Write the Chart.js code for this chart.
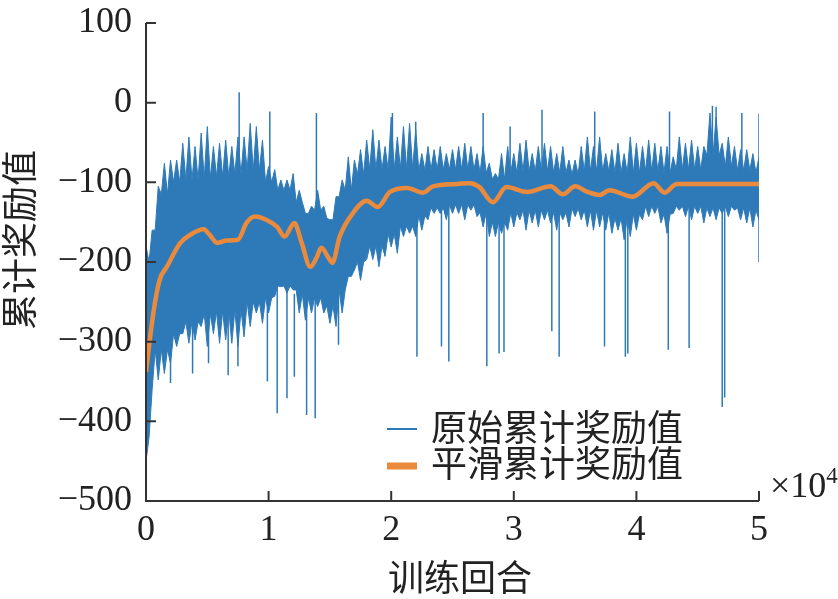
<!DOCTYPE html>
<html>
<head>
<meta charset="utf-8">
<script src="https://cdn.jsdelivr.net/npm/chart.js@4.4.1/dist/chart.umd.min.js"></script>
<style>
  html, body { margin: 0; padding: 0; background: #fff; }
  #wrap { width: 838px; height: 599px; }
</style>
</head>
<body>
<div id="wrap"><canvas id="c" width="838" height="599"></canvas></div>
<script>
// --- data (episodes, reward) ---
const sampleStep = 500;   // episodes between hair-tip samples
const coreStep = 1250;    // episodes between core-band samples

// tips of the noisy raw reward, upper and lower side, every 500 episodes
const rawHigh = [
  -180, -160, -105, -76, -72, -72, -51, -43, -55, -38,
  -30, -55, -51, -47, -55, -43, -43, -26, -30, -47,
  -80, -84, -97, -97, -89, -110, -139, -130, -110, -130,
  -147, -118, -97, -68, -72, -59, -47, -34, -47, -55,
  -18, -43, -30, -26, -34, -64, -55, -59, -55, -64,
  -59, -55, -51, -55, -64, -55, -76, -89, -64, -55,
  -64, -51, -47, -64, -55, -51, -55, -64, -55, -72,
  -72, -55, -43, -55, -43, -64, -59, -51, -64, -43,
  -51, -55, -47, -51, -55, -55, -68, -43, -51, -47,
  -55, -55, -13, -18, -51, -43, -55, -59, -59, -64,
  -68
];
const rawLow = [
  -450, -360, -348, -340, -327, -306, -290, -302, -298, -281,
  -306, -290, -302, -298, -302, -306, -294, -281, -264, -277,
  -264, -243, -231, -239, -235, -264, -273, -264, -256, -264,
  -277, -281, -264, -218, -210, -223, -197, -197, -206, -193,
  -181, -189, -168, -164, -168, -160, -147, -139, -139, -147,
  -139, -139, -147, -135, -143, -156, -168, -168, -164, -160,
  -156, -147, -160, -151, -156, -147, -151, -160, -147, -156,
  -143, -147, -156, -160, -156, -160, -164, -160, -172, -168,
  -160, -147, -143, -139, -151, -164, -139, -135, -143, -147,
  -139, -151, -143, -147, -139, -143, -135, -147, -151, -156,
  -147
];

// edges of the solid core of the raw band, every 1250 episodes
const coreHigh = [
  -200, -115, -100, -97, -95, -93, -90, -85, -100, -110,
  -125, -135, -145, -110, -90, -84, -84, -83, -85, -84,
  -84, -84, -88, -96, -88, -86, -86, -88, -90, -86,
  -86, -88, -88, -86, -88, -84, -84, -66, -80, -85,
  -88
];
const coreLow = [
  -420, -310, -290, -275, -265, -262, -260, -250, -245, -230,
  -240, -245, -255, -235, -200, -180, -165, -155, -142, -132,
  -128, -128, -138, -150, -138, -135, -135, -138, -133, -135,
  -138, -145, -140, -130, -140, -130, -130, -132, -130, -132,
  -135
];

// isolated spikes outside the band: [episode, reward]
const spikesDown = [
  [2000, -352], [3800, -340], [5100, -327], [6700, -342], [7500, -331],
  [9900, -350], [10700, -390], [11500, -371], [12100, -344], [13100, -392],
  [13800, -396], [15700, -304], [22100, -319], [24100, -306], [24700, -325],
  [27800, -331], [28800, -315], [29200, -313], [33100, -287], [33700, -319],
  [37400, -306], [39100, -319], [39300, -315], [42600, -310], [44300, -308],
  [47000, -382], [47200, -370], [50000, -200]
];
const spikesUp = [
  [7600, 13], [10100, -11], [13900, -13], [20100, -13], [22000, -24],
  [27500, -13], [29700, -30], [32300, -9], [36600, -11], [42700, -11],
  [46200, -4], [46500, -5], [48600, -13], [50000, -14]
];

// smoothed reward curve
const smoothEp = [
  0, 600, 1100, 1700, 2800, 3600, 4700, 5200, 5800, 6600,
  7500, 8200, 8900, 9800, 10700, 11300, 12100, 12700, 13400, 13900,
  14300, 14900, 15200, 15800, 16900, 18000, 18900, 19900, 21300, 22600,
  23400, 25400, 26400, 27200, 28300, 29400, 31100, 33000, 34000, 35000,
  36000, 37000, 37800, 39700, 41400, 42300, 43300, 50000
];
const smoothVal = [
  -338, -264, -223, -206, -176, -166, -159, -166, -176, -173,
  -172, -151, -143, -147, -156, -168, -151, -176, -206, -195,
  -182, -195, -201, -168, -138, -123, -131, -112, -107, -113,
  -105, -102, -101, -106, -125, -106, -112, -105, -115, -105,
  -112, -116, -110, -118, -101, -113, -102, -102
];

const xTicks = [0, 10000, 20000, 30000, 40000, 50000];
const yTicks = [-500, -400, -300, -200, -100, 0, 100];

const BLUE = '#2e7ab8';
const ORANGE = '#ea8a3c';
const SERIF = '"Liberation Serif", "Times New Roman", serif';
const CJK = '"Noto Sans CJK SC", sans-serif';

// --- build datasets: saw-tooth edges alternate hair tip / core edge ---
const bandHigh = [];
const bandLow = [];
rawHigh.forEach((v, i) => {
  const ep = i * sampleStep;
  const c = Math.round((ep + sampleStep / 2) / coreStep);
  bandHigh.push({x: ep, y: v});
  bandLow.push({x: ep, y: rawLow[i]});
  if (i < rawHigh.length - 1) {
    bandHigh.push({x: ep + sampleStep / 2, y: Math.min(coreHigh[c], v)});
    bandLow.push({x: ep + sampleStep / 2, y: Math.max(coreLow[c], rawLow[i])});
  }
});

const spikePts = [];
spikesDown.forEach(([ep, v]) => {
  const c = Math.round(ep / coreStep);
  spikePts.push({x: ep, y: coreLow[c]}, {x: ep, y: v}, {x: ep, y: null});
});
spikesUp.forEach(([ep, v]) => {
  const c = Math.round(ep / coreStep);
  spikePts.push({x: ep, y: coreHigh[c]}, {x: ep, y: v}, {x: ep, y: null});
});

const smoothPts = smoothEp.map((ep, i) => ({x: ep, y: smoothVal[i]}));

const fmt = v => (v < 0 ? '\u2212' + Math.abs(v) : String(v));

// axes, inward ticks, titles, legend and exponent drawn on top
const decorations = {
  id: 'decorations',
  afterDraw(chart) {
    const {ctx, scales: {x, y}, chartArea: a} = chart;
    ctx.save();
    ctx.strokeStyle = '#333';
    ctx.lineWidth = 2;
    ctx.beginPath();
    ctx.moveTo(a.left, a.top);
    ctx.lineTo(a.left, a.bottom);
    ctx.lineTo(a.right, a.bottom);
    xTicks.forEach(v => {
      const px = x.getPixelForValue(v);
      ctx.moveTo(px, a.bottom);
      ctx.lineTo(px, a.bottom - 10);
    });
    yTicks.forEach(v => {
      const py = y.getPixelForValue(v);
      ctx.moveTo(a.left, py);
      ctx.lineTo(a.left + 10, py);
    });
    ctx.stroke();

    ctx.fillStyle = '#222';
    ctx.textBaseline = 'middle';
    ctx.textAlign = 'center';
    ctx.font = '36px ' + CJK;
    ctx.fillText('训练回合', 460, 577);
    ctx.save();
    ctx.translate(19, 240);
    ctx.rotate(-Math.PI / 2);
    ctx.fillText('累计奖励值', 0, 0);
    ctx.restore();

    // legend
    ctx.textAlign = 'left';
    ctx.lineCap = 'butt';
    ctx.strokeStyle = BLUE;
    ctx.lineWidth = 2;
    ctx.beginPath();
    ctx.moveTo(387, 429);
    ctx.lineTo(417, 429);
    ctx.stroke();
    ctx.strokeStyle = ORANGE;
    ctx.lineWidth = 7;
    ctx.beginPath();
    ctx.moveTo(387, 466);
    ctx.lineTo(417, 466);
    ctx.stroke();
    ctx.fillText('原始累计奖励值', 431, 427);
    ctx.fillText('平滑累计奖励值', 431, 463);

    // x10^4 multiplier
    ctx.textBaseline = 'alphabetic';
    ctx.font = '36px ' + SERIF;
    ctx.fillText('\u00d710', 770, 497);
    const w = ctx.measureText('\u00d710').width;
    ctx.font = '23px ' + SERIF;
    ctx.fillText('4', 770 + w, 483);
    ctx.restore();
  }
};

new Chart(document.getElementById('c'), {
  type: 'line',
  data: {
    datasets: [
      {
        label: '平滑累计奖励值',
        data: smoothPts,
        borderColor: ORANGE,
        borderWidth: 4.5,
        pointRadius: 0,
        cubicInterpolationMode: 'monotone',
        fill: false
      },
      {
        label: '原始累计奖励值',
        data: spikePts,
        borderColor: BLUE,
        borderWidth: 1.5,
        pointRadius: 0,
        spanGaps: false,
        fill: false
      },
      {
        label: 'bandHigh',
        data: bandHigh,
        borderColor: BLUE,
        borderWidth: 1,
        pointRadius: 0,
        fill: false
      },
      {
        label: 'bandLow',
        data: bandLow,
        borderColor: BLUE,
        borderWidth: 1,
        backgroundColor: BLUE,
        pointRadius: 0,
        fill: '-1'
      }
    ]
  },
  options: {
    responsive: false,
    animation: false,
    devicePixelRatio: 1,
    layout: {padding: {top: 23, right: 79, left: 0, bottom: 0}},
    plugins: {legend: {display: false}, tooltip: {enabled: false}},
    scales: {
      x: {
        type: 'linear',
        min: 0,
        max: 50000,
        afterBuildTicks: s => { s.ticks = xTicks.map(v => ({value: v})); },
        afterFit: s => { s.height = 98; s.paddingLeft = 0; s.paddingRight = 0; },
        grid: {display: false, drawTicks: false},
        border: {display: false},
        ticks: {
          padding: 8,
          color: '#222',
          font: {family: SERIF, size: 36},
          callback: v => String(v / 10000),
          maxRotation: 0
        }
      },
      y: {
        min: -500,
        max: 100,
        afterBuildTicks: s => { s.ticks = yTicks.map(v => ({value: v})); },
        afterFit: s => { s.width = 146; s.paddingTop = 0; s.paddingBottom = 0; },
        grid: {display: false, drawTicks: false},
        border: {display: false},
        ticks: {
          padding: 14,
          color: '#222',
          font: {family: SERIF, size: 36},
          callback: fmt
        }
      }
    }
  },
  plugins: [decorations]
});
</script>
</body>
</html>
